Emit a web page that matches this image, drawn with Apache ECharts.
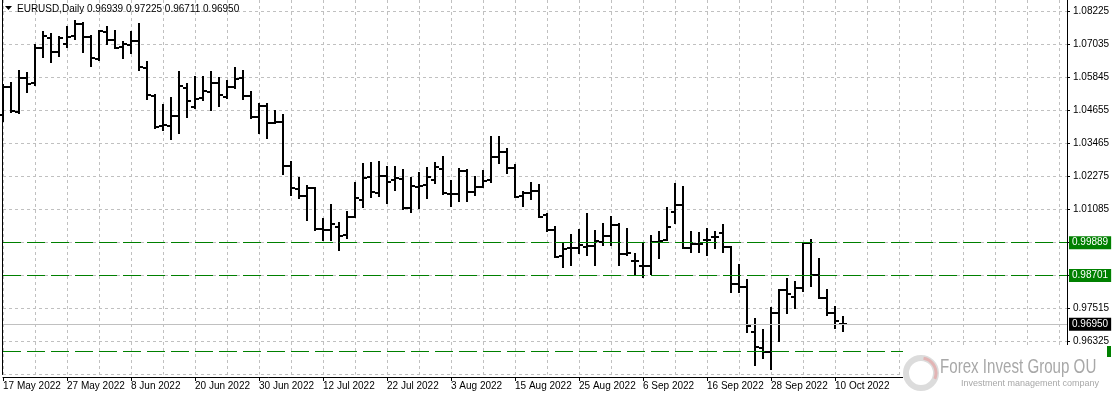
<!DOCTYPE html>
<html><head><meta charset="utf-8">
<script src="https://cdn.jsdelivr.net/npm/echarts@6/dist/echarts.min.js"></script>
<style>html,body{margin:0;padding:0;background:#fff}#c{width:1114px;height:398px}</style>
</head><body><div id="c"></div>
<script>
const dates = [
'17 May 2022','18 May 2022','19 May 2022','20 May 2022','23 May 2022','24 May 2022','25 May 2022','26 May 2022','27 May 2022','30 May 2022','31 May 2022',
'1 Jun 2022','2 Jun 2022','3 Jun 2022','6 Jun 2022','7 Jun 2022','8 Jun 2022','9 Jun 2022','10 Jun 2022','13 Jun 2022','14 Jun 2022','15 Jun 2022','16 Jun 2022','17 Jun 2022','20 Jun 2022','21 Jun 2022','22 Jun 2022','23 Jun 2022','24 Jun 2022','27 Jun 2022','28 Jun 2022','29 Jun 2022','30 Jun 2022',
'1 Jul 2022','4 Jul 2022','5 Jul 2022','6 Jul 2022','7 Jul 2022','8 Jul 2022','11 Jul 2022','12 Jul 2022','13 Jul 2022','14 Jul 2022','15 Jul 2022','18 Jul 2022','19 Jul 2022','20 Jul 2022','21 Jul 2022','22 Jul 2022','25 Jul 2022','26 Jul 2022','27 Jul 2022','28 Jul 2022','29 Jul 2022',
'1 Aug 2022','2 Aug 2022','3 Aug 2022','4 Aug 2022','5 Aug 2022','8 Aug 2022','9 Aug 2022','10 Aug 2022','11 Aug 2022','12 Aug 2022','15 Aug 2022','16 Aug 2022','17 Aug 2022','18 Aug 2022','19 Aug 2022','22 Aug 2022','23 Aug 2022','24 Aug 2022','25 Aug 2022','26 Aug 2022','29 Aug 2022','30 Aug 2022','31 Aug 2022',
'1 Sep 2022','2 Sep 2022','5 Sep 2022','6 Sep 2022','7 Sep 2022','8 Sep 2022','9 Sep 2022','12 Sep 2022','13 Sep 2022','14 Sep 2022','15 Sep 2022','16 Sep 2022','19 Sep 2022','20 Sep 2022','21 Sep 2022','22 Sep 2022','23 Sep 2022','26 Sep 2022','27 Sep 2022','28 Sep 2022','29 Sep 2022','30 Sep 2022',
'3 Oct 2022','4 Oct 2022','5 Oct 2022','6 Oct 2022','7 Oct 2022','10 Oct 2022','11 Oct 2022'];

const opens = [1.04493,1.05513,1.04590,1.05838,1.05636,1.06898,1.07280,1.06754,1.07042,1.07352,
1.07763,1.07295,1.06501,1.07497,1.07197,1.06934,1.07017,1.07172,1.06177,1.05189,
1.04096,1.04096,1.04457,1.05477,1.04792,1.05095,1.05333,1.05636,1.05131,1.05492,
1.05816,1.05178,1.04410,1.04828,1.04193,1.04229,1.02654,1.01824,1.01572,1.01849,
1.00371,1.00346,1.00443,1.00165,1.00825,1.01428,1.02268,1.01669,1.02293,1.02149,
1.02185,1.01150,1.01914,1.01968,1.02149,1.02535,1.01650,1.01644,1.02473,1.01727,
1.01907,1.02149,1.02989,1.03169,1.02571,1.01572,1.01691,1.01763,1.00887,1.00346,
0.99408,0.99680,0.99686,0.99744,0.99769,0.99924,1.00129,1.00526,0.99480,0.99230,
0.99040,0.99048,0.99924,0.99985,1.00984,1.01247,0.99686,0.99835,0.99975,1.00095,
1.00227,0.99744,0.98398,0.98279,0.96678,0.96080,0.95935,0.97363,0.98182,0.97919,
0.98243,0.99866,0.98723,0.97904,0.97363,0.96939];
const highs = [1.05575,1.05636,1.06079,1.05996,1.07017,1.07497,1.07414,1.07316,1.07677,1.07882,
1.07800,1.07341,1.07533,1.07655,1.07533,1.07136,1.07497,1.07774,1.06415,1.05214,
1.04853,1.05095,1.06033,1.05611,1.05852,1.05852,1.06061,1.05816,1.05730,1.06177,
1.06079,1.05333,1.04879,1.04879,1.04637,1.04493,1.02809,1.02210,1.01932,1.01849,
1.00742,1.01247,1.00609,1.01006,1.02030,1.02726,1.02773,1.02787,1.02628,1.02607,
1.02509,1.02210,1.02390,1.02571,1.02751,1.02967,1.02123,1.02535,1.02509,1.02246,
1.02473,1.03710,1.03689,1.03267,1.02690,1.01727,1.02030,1.01968,1.00923,1.00465,
0.99866,1.00165,1.00346,1.00923,1.00320,1.00562,1.00804,1.00562,1.00382,0.99469,
0.99888,1.00129,1.00284,1.01128,1.02004,1.01886,1.00263,1.00227,1.00371,1.00284,
1.00526,0.99744,0.99084,0.98543,0.97136,0.96740,0.97544,0.98182,0.98579,0.98481,
0.99888,0.99985,0.99300,0.98182,0.97558,0.97225];
const lows = [1.04276,1.04612,1.04576,1.05333,1.05575,1.06595,1.06415,1.06631,1.06956,1.07233,
1.06775,1.06271,1.06476,1.07042,1.06898,1.06537,1.06718,1.06115,1.05059,1.04013,
1.03952,1.03627,1.03833,1.04431,1.04734,1.05034,1.04691,1.04828,1.05095,1.05456,
1.05059,1.04374,1.03833,1.03674,1.04193,1.02354,1.01608,1.01489,1.00706,1.00346,
0.99985,0.99985,0.99624,1.00046,1.00804,1.01186,1.01547,1.01583,1.01309,1.01788,
1.01103,1.00984,1.01128,1.01489,1.02030,1.01633,1.01211,1.01402,1.01402,1.01608,
1.01886,1.02087,1.02751,1.02390,1.01547,1.01222,1.01453,1.00804,1.00320,0.99361,
0.99001,0.99084,0.99505,0.99444,0.99084,0.99805,0.99805,0.99084,0.99444,0.98759,
0.98662,0.98759,0.99325,0.99985,1.00609,0.99686,0.99563,0.99563,0.99444,0.99686,
0.99563,0.98121,0.98099,0.96678,0.95477,0.95719,0.95333,0.96354,0.97363,0.97544,
0.98146,0.98326,0.97904,0.97281,0.96823,0.96711];
const closes = [1.05513,1.04637,1.05838,1.05600,1.06920,1.07352,1.06775,1.07259,1.07295,1.07763,
1.07316,1.06537,1.07522,1.07197,1.06920,1.07042,1.07172,1.06213,1.05214,1.04071,
1.04132,1.04457,1.05538,1.04998,1.05070,1.05358,1.05636,1.05214,1.05492,1.05780,
1.05178,1.04410,1.04828,1.04215,1.04251,1.02654,1.01849,1.01572,1.01849,1.00371,
1.00346,1.00551,1.00140,1.00825,1.01489,1.02210,1.01727,1.02293,1.02066,1.02210,
1.01128,1.01932,1.01932,1.02246,1.02607,1.01691,1.01640,1.02473,1.01727,1.01907,
1.02123,1.02967,1.03169,1.02571,1.01547,1.01691,1.01763,1.00804,1.00346,0.99383,
0.99661,0.99690,0.99805,0.99769,0.99949,1.00129,1.00526,0.99469,0.99505,0.99245,
0.99055,0.99924,0.99960,1.00443,1.01247,0.99686,0.99841,0.99850,0.99990,1.00110,
0.99744,0.98398,0.98279,0.96895,0.96116,0.95935,0.97363,0.98182,0.98038,0.98243,
0.99866,0.98723,0.97904,0.97363,0.97064,0.96950];

const symbolName = 'EURUSD';
const periodName = 'Daily';
const levelLines = [0.99889, 0.98701, 0.95990];
const currentPrice = 0.96950;
const priceTicks = ['0.95135','0.96325','0.97515','0.98705','0.99895','1.01085','1.02275','1.03465','1.04655','1.05845','1.07035','1.08225'];
const emptySlots = 28;

const FONT = 'Liberation Sans';
const cats = dates.concat(new Array(emptySlots).fill(''));
const ohlc = dates.map((d, i) => [i, opens[i], highs[i], lows[i], closes[i]]);
const tickMin = parseFloat(priceTicks[0]);
const tickStep = parseFloat(priceTicks[1]) - tickMin;
const last = dates.length - 1;

const chart = echarts.init(document.getElementById('c'), null, {renderer: 'canvas'});

function renderBar(params, api) {
  const x = Math.round(api.coord([api.value(0), api.value(1)])[0]);
  const yo = Math.round(api.coord([api.value(0), api.value(1)])[1]);
  const yh = Math.round(api.coord([api.value(0), api.value(2)])[1]);
  const yl = Math.round(api.coord([api.value(0), api.value(3)])[1]);
  const yc = Math.round(api.coord([api.value(0), api.value(4)])[1]);
  const st = {stroke: '#000', lineWidth: 2};
  return {type: 'group', children: [
    {type: 'line', shape: {x1: x, y1: yh - 1, x2: x, y2: yl + 1}, style: st},
    {type: 'line', shape: {x1: x - 4, y1: yo, x2: x, y2: yo}, style: st},
    {type: 'line', shape: {x1: x, y1: yc, x2: x + 4, y2: yc}, style: st}
  ]};
}

const levelLabel = (bg) => ({
  show: true, position: 'end', distance: 2,
  formatter: p => Number(p.value).toFixed(5),
  backgroundColor: bg, color: '#fff', fontFamily: FONT, fontSize: 10,
  padding: [2, 3, 1, 3]
});
const greenDash = {color: '#008000', type: [18, 6], width: 1};

const option = {
  animation: false,
  backgroundColor: '#fff',
  grid: {left: 3, right: 47, top: 0, bottom: 23.5},
  xAxis: {
    type: 'category', data: cats, boundaryGap: false, offset: 2.5,
    axisLine: {show: true, lineStyle: {color: '#000', width: 1}},
    axisTick: {show: true, length: 4, interval: (i) => i % 8 === 0 && i <= last, lineStyle: {color: '#000'}},
    axisLabel: {interval: (i) => i % 8 === 0 && i <= last, align: 'left', margin: 4, color: '#000', fontFamily: FONT, fontSize: 10},
    splitLine: {show: true, interval: 3, lineStyle: {color: '#c0c0c0', type: [3, 3], width: 1}}
  },
  yAxis: [{
    type: 'value', position: 'right', min: tickMin, max: 1.08640, interval: tickStep, scale: true,
    axisLine: {show: true, lineStyle: {color: '#000'}},
    axisTick: {show: true, length: 3, lineStyle: {color: '#000'}},
    axisLabel: {
      color: '#000', fontFamily: FONT, fontSize: 10, margin: 6, showMaxLabel: false,
      formatter: v => {
        const k = (v - tickMin) / tickStep;
        return Math.abs(k - Math.round(k)) < 0.01 && Math.round(k) < priceTicks.length ? priceTicks[Math.round(k)] : '';
      }
    },
    splitLine: {show: true, showMaxLine: false, lineStyle: {color: '#c0c0c0', type: [3, 3], width: 1}}
  }, {
    type: 'value', position: 'left', min: tickMin, max: 1.08640, offset: 1,
    axisLine: {show: true, lineStyle: {color: '#000'}},
    axisTick: {show: false}, axisLabel: {show: false}, splitLine: {show: false}
  }],
  series: [{
    type: 'custom', renderItem: renderBar, data: ohlc,
    encode: {x: 0, y: [1, 2, 3, 4]}, z: 3,
    markLine: {
      silent: true, symbol: 'none', animation: false, precision: 5, z: 4,
      lineStyle: greenDash,
      data: [
        {yAxis: levelLines[0], lineStyle: greenDash, label: levelLabel('#008000')},
        {yAxis: levelLines[1], lineStyle: greenDash, label: levelLabel('#008000')},
        {yAxis: levelLines[2], lineStyle: greenDash, label: {show: false}},
        {yAxis: currentPrice, lineStyle: {color: '#c0c0c0', type: 'solid', width: 1}, label: levelLabel('#000')}
      ]
    }
  }],
  graphic: [
    {type: 'polygon', shape: {points: [[5, 6], [12, 6], [8.5, 10]]}, style: {fill: '#000'}, z: 10},
    {type: 'text', x: 17, y: 4, style: {
      text: symbolName + ',' + periodName + ' ' + [opens[last], highs[last], lows[last], closes[last]].map(v => v.toFixed(5)).join(' '),
      fill: '#000', font: '10px "Liberation Sans"'}, z: 10},
    {type: 'rect', shape: {x: 903, y: 345, width: 211, height: 53}, style: {fill: '#fff'}, z: 50},
    {type: 'circle', shape: {cx: 921, cy: 373, r: 15}, style: {fill: 'none', stroke: '#dcdcdc', lineWidth: 6}, z: 51},
    {type: 'arc', shape: {cx: 921, cy: 373, r: 15, startAngle: -1.4, endAngle: 0.4}, style: {fill: 'none', stroke: '#e2b4b4', lineWidth: 3}, z: 52},
    {type: 'text', x: 940, y: 357, scaleX: 0.72, style: {text: 'Forex Invest Group OU', fill: '#a8a8a8', font: '21px "Liberation Sans", sans-serif'}, z: 51},
    {type: 'text', x: 961, y: 379, style: {text: 'Investment management company', fill: '#a8a8a8', font: '9px "Liberation Sans", sans-serif'}, z: 51},
    {type: 'rect', shape: {x: 1107, y: 346, width: 4, height: 11}, style: {fill: '#008000'}, z: 52}
  ]
};
chart.setOption(option);
</script></body></html>
